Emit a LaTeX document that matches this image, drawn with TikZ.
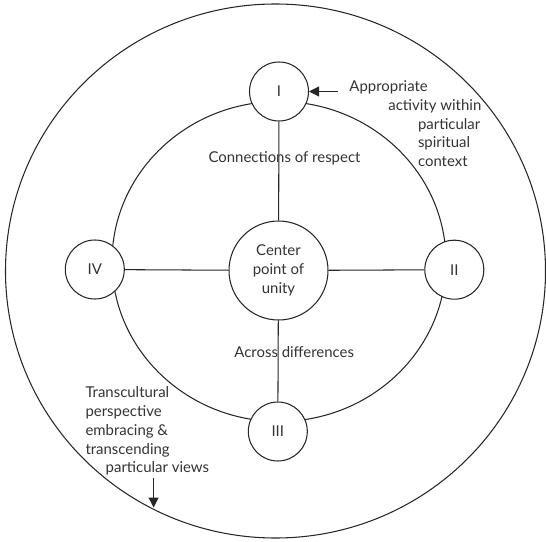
\documentclass[tikz,border=0pt]{standalone}
\usepackage{fontspec}
\setmainfont{Lato}
\usetikzlibrary{arrows.meta}
\begin{document}
\begin{tikzpicture}[x=1bp,y=-1bp,
  ln/.style={draw=black!85, line width=1.05bp},
  txt/.style={inner sep=0pt, text=black!80, font=\fontsize{15}{19}\selectfont},
  numnode/.style={circle, ln, fill=white, minimum size=59bp, inner sep=0pt, text=black!80, font=\fontsize{15}{19}\selectfont},
  cnode/.style={circle, ln, fill=white, minimum size=99bp, inner sep=0pt, align=center, text=black!80, font=\fontsize{15}{19.2}\selectfont},
  arr/.style={ln, -{Triangle[length=10bp,width=10bp]}}
]
\useasboundingbox (0,0) rectangle (546,542);
% outer and inner rings
\draw[ln] (275.5,271) ellipse [x radius=270, y radius=267];
\draw[ln] (279,261.5) ellipse [x radius=167, y radius=160];
% nodes
\node[cnode] (C) at (278.5,270.5) {Center\\point of\\unity};
\node[numnode] (I) at (279,91.5) {I};
\node[numnode] (II) at (454.3,269.7) {II};
\node[numnode] (III) at (277.8,431.5) {III};
\node[numnode] (IV) at (94.8,269.5) {IV};
% spokes
\draw[ln] (I) -- (C);
\draw[ln] (II) -- (C);
\draw[ln] (III) -- (C);
\draw[ln] (IV) -- (C);
% spoke labels
\node[txt, anchor=mid] (cr) at (284.5,159.5) {Connections of respect};
\node[txt, anchor=mid] (ad) at (294.2,355.2) {Across differences};
% right annotation
\node[txt, anchor=mid west] (r1) at (349.2,88.8) {Appropriate};
\node[txt, anchor=mid west] (r2) at (388.2,108) {activity within};
\node[txt, anchor=mid west] (r3) at (417.8,127) {particular};
\node[txt, anchor=mid west] (r4) at (417.8,145.2) {spiritual};
\node[txt, anchor=mid west] (r5) at (417.8,163.6) {context};
\coordinate (a1) at (337.7,91.5);
\draw[arr] (a1) -- (I);
% left annotation
\node[txt, anchor=mid west] (l1) at (85.3,395.2) {Transcultural};
\node[txt, anchor=mid west] (l2) at (85.3,413.6) {perspective};
\node[txt, anchor=mid west] (l3) at (85.3,432.8) {embracing \&};
\node[txt, anchor=mid west] (l4) at (85.3,451.6) {transcending};
\node[txt, anchor=mid west] (l5) at (105.5,470) {particular views};
\coordinate (a2s) at (153.6,478);
\coordinate (a2e) at (153.6,507.5);
\draw[arr] (a2s) -- (a2e);
\end{tikzpicture}
\end{document}
